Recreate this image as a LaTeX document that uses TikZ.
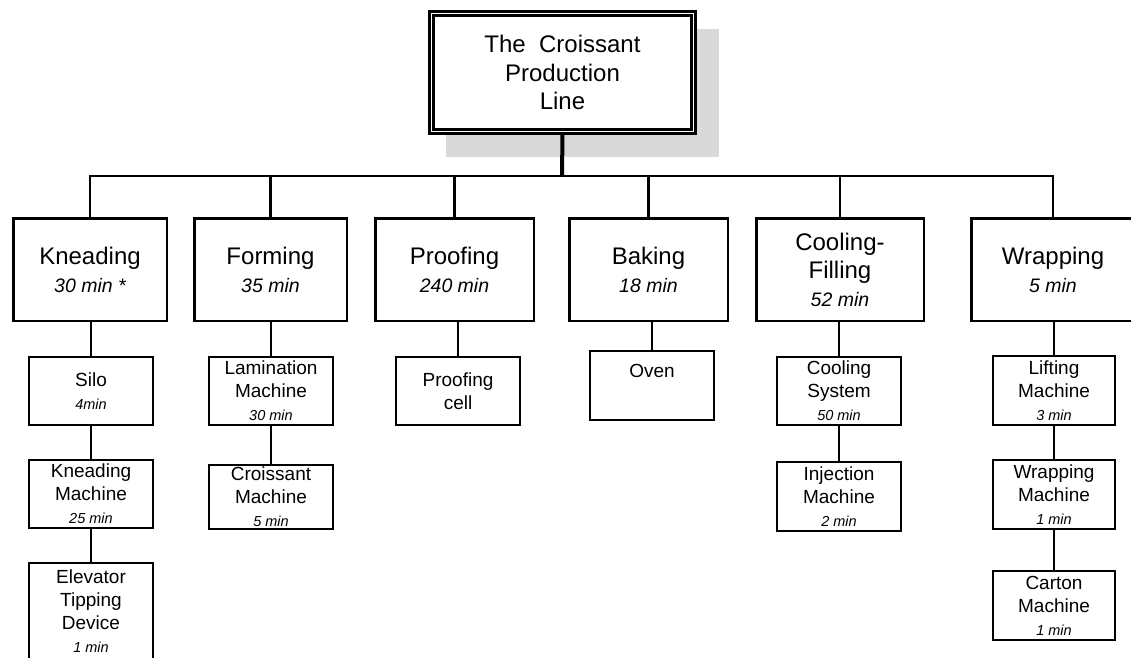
\documentclass[tikz,border=0pt]{standalone}
\usepackage{fontspec}
\setmainfont{Liberation Sans}
\newcommand{\tmin}[2][14.5]{{\itshape\fontsize{#1}{#1}\selectfont #2}}
\tikzset{
  titlebox/.style={draw,double,line width=2.5pt,double distance=1.8pt,fill=white,
    minimum width=262pt,minimum height=118pt,inner sep=0pt,align=center,
    font=\fontsize{24}{28.5}\selectfont},
  stage/.style={draw,line width=2.5pt,minimum width=153.5pt,minimum height=102.5pt,
    inner sep=0pt,align=center,font=\fontsize{24}{28}\selectfont},
  unit/.style={draw,line width=1.6pt,minimum width=123.5pt,minimum height=68.5pt,
    inner sep=0pt,align=center,font=\fontsize{19}{23}\selectfont},
  bus/.style={line width=2.7pt},
  link/.style={line width=1.8pt},
}

\begin{document}
\begin{tikzpicture}[x=1pt,y=-1pt]
\useasboundingbox (0,0) rectangle (1131,657);
\clip (0,0) rectangle (1131,657);
% shadow behind the title
\fill[black!15] (446,29) rectangle (719,157);
\node[titlebox] (title) at (562.5,72.5) {The~~Croissant\\Production\\Line};
\coordinate (hub) at (562,176);
\draw[line width=4pt] (title.south) -- (hub);

% stages
\node[stage] (knead) at (90,269.5) {Kneading\\\tmin[19.5]{30 min *}};
\node[stage,minimum width=152.5pt] (form) at (270.5,269.5) {Forming\\\tmin[19.5]{35 min}};
\node[stage,minimum width=158.5pt] (proof) at (454.5,269.5) {Proofing\\\tmin[19.5]{240 min}};
\node[stage,minimum width=158.5pt] (bake) at (648.5,269.5) {Baking\\\tmin[19.5]{18 min}};
\node[stage,minimum width=167.5pt] (cool) at (840,269.5) {Cooling-\\Filling\\\tmin[19.5]{52 min}};
\node[stage,minimum width=163.5pt] (wrap) at (1053,269.5) {Wrapping\\\tmin[19.5]{5 min}};

\draw[bus] (knead.north) |- (hub) -| (wrap.north);
\foreach \s in {form,proof,bake,cool}
  \draw[bus] (\s.north) -- (\s.north |- hub);

% machines
\node[unit,minimum width=124pt] (silo) at (91,391) {Silo\\\tmin{4min}};
\node[unit,minimum width=124pt] (kmach) at (91,494) {Kneading\\Machine\\\tmin{25 min}};
\node[unit,minimum width=124pt,minimum height=97.4pt] (elev) at (91,611.5) {Elevator\\Tipping\\Device\\\tmin{1 min}};
\node[unit,minimum width=124.4pt] (lam) at (271,391) {Lamination\\Machine\\\tmin{30 min}};
\node[unit,minimum width=124.4pt,minimum height=64.4pt] (cmach) at (271,497) {Croissant\\Machine\\\tmin{5 min}};
\node[unit] (cell) at (458,391) {Proofing\\cell};
\node[unit,minimum width=124.4pt] (oven) at (652,385.5) {Oven\\\strut};
\node[unit,minimum width=124.4pt] (csys) at (839,391) {Cooling\\System\\\tmin{50 min}};
\node[unit,minimum width=124.4pt] (inj) at (839,496.5) {Injection\\Machine\\\tmin{2 min}};
\node[unit,minimum width=122.4pt] (lift) at (1054,390.5) {Lifting\\Machine\\\tmin{3 min}};
\node[unit,minimum width=122.4pt] (wmach) at (1054,494.5) {Wrapping\\Machine\\\tmin{1 min}};
\node[unit,minimum width=122.4pt] (carton) at (1054,605.5) {Carton\\Machine\\\tmin{1 min}};

\foreach \s/\u in {knead/silo,form/lam,proof/cell,bake/oven,cool/csys,wrap/lift}
  \draw[link] (\u.north) -- (\u.north |- \s.south);
\foreach \a/\b in {silo/kmach,kmach/elev,lam/cmach,csys/inj,lift/wmach,wmach/carton}
  \draw[link] (\a.south) -- (\b.north);
\end{tikzpicture}
\end{document}
